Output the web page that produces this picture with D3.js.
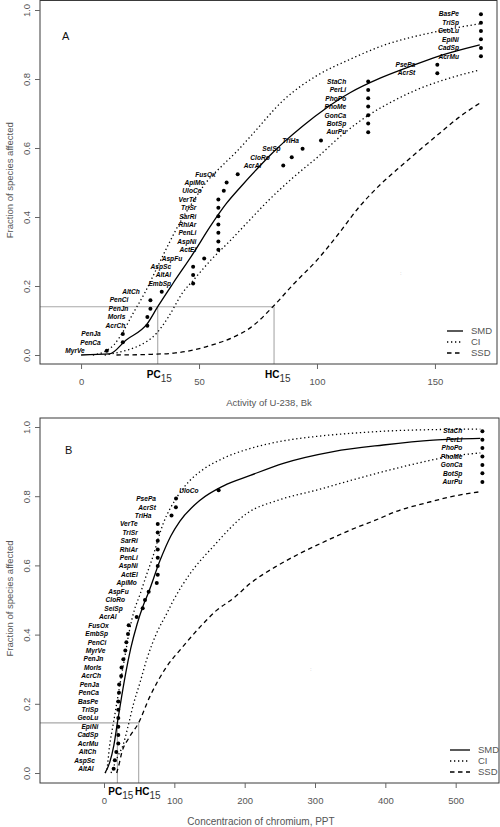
<!DOCTYPE html>
<html><head><meta charset="utf-8">
<script src="https://cdn.jsdelivr.net/npm/d3@7"></script>
<style>
body{margin:0;background:#fff}
svg{display:block}
text{font-family:"Liberation Sans",Arial,sans-serif}
</style>
</head><body>
<svg id="c" width="500" height="827"></svg>
<script>
// ---------- DATA ----------
// plotting positions (fraction of species affected), rank 1..41 from bottom
const fractions = [0.012,0.037,0.061,0.085,0.110,0.134,0.159,0.183,0.207,0.232,0.256,0.280,0.305,0.329,0.354,0.378,0.402,0.427,0.451,0.476,0.500,0.524,0.549,0.573,0.598,0.622,0.646,0.671,0.695,0.720,0.744,0.768,0.793,0.817,0.841,0.866,0.890,0.915,0.939,0.963,0.988];

// Panel A: U-238 activity (Bk), species in rank order (bottom -> top)
const speciesA = ["MyrVe","PenCa","PenJa","AcrCh","MorIs","PenJn","PenCi","AltCh","EmbSp","AltAl","AspSc","AspFu","ActEl","AspNi","PenLi","RhiAr","SarRi","TriSr","VerTe","UloCo","ApiMo","FusOx","AcrAl","CloRo","SeiSp","TriHa","AurPu","BotSp","GonCa","PhoMe","PhoPo","PerLi","StaCh","AcrSt","PsePa","AcrMu","CadSp","EpiNi","GeoLu","TriSp","BasPe"];
const valuesA = [10.9,17.7,17.7,28.1,28.1,29.4,29.4,34.2,47.5,47.5,47.5,52.2,58.2,58.2,58.2,58.2,58.2,58.2,58.2,60.5,61.7,66.4,85.7,89.3,93.9,101.7,121.7,121.7,121.7,121.7,121.7,121.7,121.7,151,151,169.5,169.5,169.5,169.5,169.5,169.5];

// Panel B: chromium concentration (PPT)
const speciesB = ["AltAl","AspSc","AltCh","AcrMu","CadSp","EpiNi","GeoLu","TriSp","BasPe","PenCa","PenJa","AcrCh","MorIs","PenJn","MyrVe","PenCi","EmbSp","FusOx","AcrAl","SeiSp","CloRo","AspFu","ApiMo","ActEl","AspNi","PenLi","RhiAr","SarRi","TriSr","VerTe","TriHa","AcrSt","PsePa","UloCo","AurPu","BotSp","GonCa","PhoMe","PhoPo","PerLi","StaCh"];
const valuesB = [13.7,15.4,17.5,20.3,20.3,20.3,20.3,20.3,20.3,21.3,21.5,24.4,24.9,27.5,30.3,31.8,34.1,35.1,46.5,55,58.3,63.5,75,76.4,76.4,76.4,76.4,76.4,76.4,76.4,96,102.2,102.4,163,538,538,538,538,538,538,538];

// Curves [x, fraction]
const smdA = [[0,0],[12,0.003],[19,0.043],[28,0.09],[32.5,0.14],[39,0.208],[47.6,0.295],[54.7,0.372],[61.7,0.44],[68,0.49],[74,0.535],[81,0.585],[86,0.617],[94,0.664],[104,0.716],[114,0.76],[127,0.803],[139,0.835],[151,0.865],[169,0.899]];
const ciUpA = [[5,0],[10,0.01],[14,0.03],[18,0.07],[22,0.12],[27,0.18],[32,0.25],[37,0.32],[42,0.385],[47,0.44],[53,0.5],[60,0.55],[66,0.59],[72,0.635],[86,0.74],[100,0.81],[114,0.857],[128,0.897],[149,0.935],[169,0.96]];
const ciLoA = [[10,0],[14,0.005],[20,0.015],[24,0.025],[28,0.04],[32,0.063],[37,0.11],[43,0.18],[48,0.22],[55,0.275],[63,0.33],[72,0.395],[79,0.445],[90,0.515],[100,0.572],[111,0.64],[122.5,0.698],[132,0.735],[142,0.768],[155,0.8],[169,0.826]];
const ssdA = [[15,0],[30,0.002],[40,0.006],[48,0.015],[56,0.03],[64,0.05],[72,0.08],[82,0.145],[90,0.205],[100,0.275],[109,0.35],[118,0.43],[127,0.495],[136,0.55],[144,0.597],[152,0.643],[160,0.688],[169,0.73]];

const smdB = [[1.5,0],[8,0.03],[14,0.08],[19,0.145],[25,0.22],[31,0.29],[38,0.36],[47,0.43],[55,0.48],[63,0.52],[80,0.616],[95,0.685],[108,0.728],[137,0.789],[170,0.83],[208,0.86],[255,0.895],[326,0.929],[397,0.948],[468,0.962],[535,0.967]];
const ciUpB = [[1.5,0],[4,0.01],[8,0.08],[13,0.14],[18,0.2],[23,0.26],[30,0.34],[36,0.41],[43,0.47],[51,0.515],[60,0.57],[68,0.616],[84,0.72],[103,0.795],[122,0.845],[140,0.876],[170,0.91],[208,0.938],[250,0.958],[303,0.973],[360,0.983],[421,0.99],[535,0.994]];
const ciLoB = [[10,0],[14,0.02],[20,0.05],[27,0.08],[33,0.125],[42,0.2],[51,0.26],[61,0.33],[75,0.405],[89,0.46],[99,0.5],[122,0.575],[155,0.654],[203,0.75],[250,0.79],[303,0.818],[350,0.845],[397,0.871],[445,0.895],[492,0.915],[535,0.925]];
const ssdB = [[18,0],[22,0.03],[25,0.057],[35,0.1],[49,0.144],[65,0.22],[89,0.307],[110,0.36],[137,0.423],[160,0.47],[184,0.505],[208,0.548],[243,0.595],[279,0.635],[315,0.67],[350,0.702],[385,0.73],[421,0.76],[457,0.78],[492,0.798],[535,0.813]];

// Thresholds
const refA = {pc:32.5, hc:81.8, level:0.14};
const refB = {pc:19, hc:49.3, level:0.145};

const xTicksA = [0,50,100,150];
const xTicksB = [0,100,200,300,400,500];
const yTicks = [0,0.2,0.4,0.6,0.8,1.0];
const legendItems = ["SMD","CI","SSD"];

// ---------- DRAW ----------
const svg = d3.select("#c");

function panel(cfg){
  const g = svg.append("g");
  const x = d3.scaleLinear().domain(cfg.xDomain).range([cfg.left, cfg.right]);
  const y = d3.scaleLinear().domain([0,1]).range([cfg.y0, cfg.y1]);

  // reference lines (gray)
  const gc = "#a8a8a8";
  g.append("line").attr("x1",cfg.left).attr("x2",x(cfg.ref.hc)).attr("y1",y(cfg.ref.level)).attr("y2",y(cfg.ref.level)).attr("stroke",gc).attr("stroke-width",1.1);
  g.append("line").attr("x1",x(cfg.ref.pc)).attr("x2",x(cfg.ref.pc)).attr("y1",y(cfg.ref.level)).attr("y2",cfg.bottom).attr("stroke",gc).attr("stroke-width",1.1);
  g.append("line").attr("x1",x(cfg.ref.hc)).attr("x2",x(cfg.ref.hc)).attr("y1",y(cfg.ref.level)).attr("y2",cfg.bottom).attr("stroke",gc).attr("stroke-width",1.1);

  // box
  g.append("rect").attr("x",cfg.left).attr("y",cfg.top).attr("width",cfg.right-cfg.left).attr("height",cfg.bottom-cfg.top)
    .attr("fill","none").attr("stroke","#3a3a3a").attr("stroke-width",1);

  // axes
  const xa = g.append("g").attr("transform",`translate(0,${cfg.bottom})`)
    .call(d3.axisBottom(x).tickValues(cfg.xTicks).tickSize(5).tickPadding(9).tickFormat(d3.format("d")));
  xa.select(".domain").remove();
  xa.selectAll("line").attr("stroke","#666");
  xa.selectAll("text").attr("fill","#555").style("font-size","9.5px");

  const ya = g.append("g").attr("transform",`translate(${cfg.left},0)`)
    .call(d3.axisLeft(y).tickValues(yTicks).tickSize(5).tickFormat(d3.format(".1f")));
  ya.select(".domain").remove();
  ya.selectAll("line").attr("stroke","#666");
  ya.selectAll("text").attr("fill","#555").style("font-size","9.5px")
    .attr("x",null).attr("dy",null).attr("text-anchor","middle")
    .attr("transform","translate(-10.5,0) rotate(-90)");

  // axis titles
  g.append("text").attr("x",cfg.xTitleX).attr("y",cfg.xTitleY).attr("text-anchor","middle")
    .attr("fill","#555").style("font-size",cfg.xTitleSize+"px").text(cfg.xTitle);
  g.append("text").attr("transform",`translate(13,${(cfg.top+cfg.bottom)/2-2}) rotate(-90)`).attr("text-anchor","middle")
    .attr("fill","#555").style("font-size","9.5px").text("Fraction of species affected");

  // panel letter
  g.append("text").attr("x",cfg.letterX).attr("y",cfg.letterY).attr("fill","#111").style("font-size","11px").text(cfg.letter);

  // curves
  const line = d3.line().x(d=>x(d[0])).y(d=>y(d[1])).curve(d3.curveMonotoneX);
  g.append("path").attr("d",line(cfg.ssd)).attr("fill","none").attr("stroke","#000").attr("stroke-width",1.3).attr("stroke-dasharray","4.5,3.5");
  g.append("path").attr("d",line(cfg.ciLo)).attr("fill","none").attr("stroke","#000").attr("stroke-width",1.3).attr("stroke-dasharray","1.3,2.7");
  g.append("path").attr("d",line(cfg.ciUp)).attr("fill","none").attr("stroke","#000").attr("stroke-width",1.3).attr("stroke-dasharray","1.3,2.7");
  g.append("path").attr("d",line(cfg.smd)).attr("fill","none").attr("stroke","#000").attr("stroke-width",1.3);

  // points
  g.selectAll("circle.pt").data(cfg.values).join("circle").attr("class","pt")
    .attr("cx",d=>x(d)).attr("cy",(d,i)=>y(fractions[i])).attr("r",2).attr("fill","#000");

  // species labels
  g.selectAll("text.sp").data(cfg.species).join("text").attr("class","sp")
    .attr("x",(d,i)=>x(cfg.values[i])-cfg.gap).attr("y",(d,i)=>y(fractions[i])).attr("dy","0.35em")
    .attr("text-anchor","end").style("font-size","6.6px").style("font-weight","bold").style("font-style","italic")
    .attr("fill","#000").text(d=>d);

  // PC15 / HC15 labels
  [["PC",cfg.ref.pc,cfg.pcShift],["HC",cfg.ref.hc,cfg.hcShift]].forEach(([t,v,s])=>{
    const tx = g.append("text").attr("x",x(v)+s).attr("y",cfg.subY).attr("fill","#000").style("font-size","10px");
    tx.append("tspan").style("font-weight","bold").text(t);
    tx.append("tspan").attr("dy","4").attr("fill","#333").text("15");
  });

  // legend
  const dashes = [null,"1.3,2.7","4.5,3.5"];
  legendItems.forEach((t,i)=>{
    const ly = cfg.legY + i*11;
    g.append("line").attr("x1",cfg.legX).attr("x2",cfg.legX+cfg.legLen).attr("y1",ly).attr("y2",ly)
      .attr("stroke","#000").attr("stroke-width",1.3).attr("stroke-dasharray",dashes[i]);
    g.append("text").attr("x",cfg.legX+cfg.legLen+8).attr("y",ly).attr("dy","0.35em").attr("fill","#555")
      .style("font-size","9.5px").text(t);
  });

  // faint mark in the original
  g.append("text").attr("x",cfg.markX).attr("y",cfg.markY).attr("fill","#bbb").style("font-size","6px").text(":");
}

panel({
  left:40,right:497,top:0.5,bottom:364,
  xDomain:[-17.4,176.3], y0:355, y1:10,
  xTicks:xTicksA, xTitle:"Activity of U-238, Bk", xTitleX:269, xTitleY:406, xTitleSize:9.5,
  letter:"A", letterX:62, letterY:40,
  smd:smdA, ciUp:ciUpA, ciLo:ciLoA, ssd:ssdA,
  species:speciesA, values:valuesA, gap:22,
  ref:refA, pcShift:-11, hcShift:-9, subY:377.5,
  legX:447, legLen:16, legY:331,
  markX:400, markY:275
});

panel({
  left:40,right:499,top:418,bottom:783,
  xDomain:[-91,561.6], y0:773, y1:427,
  xTicks:xTicksB, xTitle:"Concentracion of chromium, PPT", xTitleX:261, xTitleY:825, xTitleSize:10,
  letter:"B", letterX:65, letterY:454,
  smd:smdB, ciUp:ciUpB, ciLo:ciLoB, ssd:ssdB,
  species:speciesB, values:valuesB, gap:20,
  ref:refB, pcShift:-9, hcShift:-3.7, subY:794.5,
  legX:450, legLen:20, legY:750,
  markX:310, markY:671
});
</script>
</body></html>
